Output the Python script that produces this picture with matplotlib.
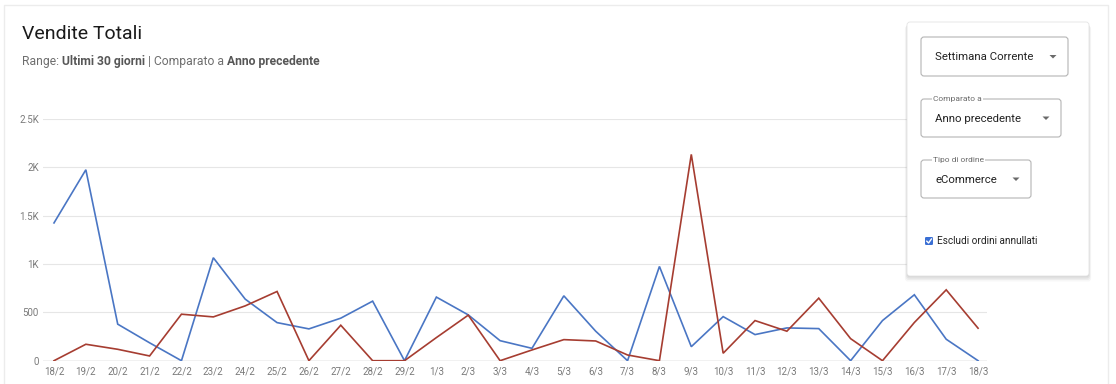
import matplotlib.pyplot as plt
from matplotlib.patches import FancyBboxPatch, Rectangle, Polygon
from matplotlib.lines import Line2D

plt.rcParams['font.family'] = ['Roboto', 'DejaVu Sans']

# Dati
giorni = ["18/2", "19/2", "20/2", "21/2", "22/2", "23/2", "24/2", "25/2", "26/2", "27/2",
          "28/2", "29/2", "1/3", "2/3", "3/3", "4/3", "5/3", "6/3", "7/3", "8/3",
          "9/3", "10/3", "11/3", "12/3", "13/3", "14/3", "15/3", "16/3", "17/3", "18/3"]
vendite_correnti = [1425, 1975, 378, 185, 0, 1065, 637, 394, 329, 440,
                    616, 0, 658, 474, 207, 128, 671, 305, 0, 975,
                    145, 456, 270, 339, 332, 0, 415, 682, 222, 0]
vendite_anno_prec = [0, 170, 118, 49, 481, 453, 567, 716, 0, 367,
                     0, 0, 239, 471, 0, 111, 218, 204, 59, 0,
                     2134, 77, 415, 305, 647, 228, 0, 395, 733, 336]
y_ticks = [0, 500, 1000, 1500, 2000, 2500]
y_labels = ["0", "500", "1K", "1.5K", "2K", "2.5K"]

W, H = 1116, 384
fig = plt.figure(figsize=(W / 100, H / 100), dpi=100)
fig.patch.set_facecolor("white")

# area del grafico (pixel)
x0, x1, yb, yt = 43, 987, 360.7, 119
ax = fig.add_axes([x0 / W, (H - yb) / H, (x1 - x0) / W, (yb - yt) / H], zorder=1)
xs = list(range(len(giorni)))
ax.plot(xs, vendite_correnti, color="#4a76c4", lw=1.2, zorder=3, solid_joinstyle="miter")
ax.plot(xs, vendite_anno_prec, color="#a63d31", lw=1.2, zorder=3, solid_joinstyle="miter")
ax.set_xlim(-0.345, 29.28)
ax.set_ylim(0, 2500)
ax.set_yticks(y_ticks)
ax.set_yticklabels(y_labels)
ax.set_xticks(xs)
ax.set_xticklabels(giorni)
ax.tick_params(length=0, labelsize=7, labelcolor="#7a7a7a")
ax.tick_params(axis="y", pad=3)
ax.tick_params(axis="x", pad=4)
for s in ax.spines.values():
    s.set_visible(False)
ax.grid(axis="y", color="#e6e6e6", lw=0.8, zorder=0)
ax.axhline(0, color="#c4c4c4", lw=1.0, zorder=2)
ax.patch.set_alpha(0)

# livello interfaccia in coordinate pixel
ui = fig.add_axes([0, 0, 1, 1], zorder=5)
ui.set_xlim(0, W)
ui.set_ylim(H, 0)
ui.axis("off")
ui.patch.set_alpha(0)

bg = fig.add_axes([0, 0, 1, 1], zorder=0)
bg.set_xlim(0, W)
bg.set_ylim(H, 0)
bg.axis("off")
bg.add_patch(Rectangle((4, 5), 1104, 400, facecolor="white", edgecolor="#ececec", lw=1))

ui.text(22, 34, "Vendite Totali", fontsize=14, color="#1a1a1a", va="center", ha="left")

renderer = fig.canvas.get_renderer()
pezzi = [("Range: ", "normal", "#6e6e6e"), ("Ultimi 30 giorni", "bold", "#575757"),
         (" | Comparato a ", "normal", "#6e6e6e"), ("Anno precedente", "bold", "#575757")]
xp = 22
for testo, peso, col in pezzi:
    t = ui.text(xp, 61, testo, fontsize=8.7, fontweight=peso, color=col, va="center", ha="left")
    xp += t.get_window_extent(renderer).width

# pannello filtri con ombra
for i, a in enumerate([0.05, 0.05, 0.04, 0.03]):
    ui.add_patch(FancyBboxPatch((907 - i * 0.7, 22 + 1 + i), 182 + i * 1.4, 254 + i * 0.5,
                                boxstyle="round,pad=0,rounding_size=3",
                                facecolor="black", edgecolor="none", alpha=a))
ui.add_patch(FancyBboxPatch((907, 22), 182, 254, boxstyle="round,pad=0,rounding_size=3",
                            facecolor="white", edgecolor="#e4e4e4", lw=0.6))


def tendina(x, y, w, h, testo, etichetta=None):
    box = FancyBboxPatch((x, y), w, h, boxstyle="round,pad=0,rounding_size=3",
                         facecolor="white", edgecolor="#b5b5b5", lw=0.8)
    ui.add_patch(box)
    tt = ui.text(x + 14, y + h / 2 + 1, testo, fontsize=8.2, color="#222222", va="center", ha="left")
    clip = Rectangle((x, y), w - 26, h, transform=ui.transData, visible=False)
    ui.add_patch(clip)
    tt.set_clip_path(clip)
    ax_ = x + w - 15
    ui.add_patch(Polygon([(ax_ - 3.5, y + h / 2 - 1.5), (ax_ + 3.5, y + h / 2 - 1.5),
                          (ax_, y + h / 2 + 2)], closed=True, facecolor="#6a6a6a", edgecolor="none"))
    if etichetta:
        ui.text(x + 12, y, etichetta, fontsize=6, color="#6a6a6a", va="center", ha="left",
                bbox=dict(facecolor="white", edgecolor="none", pad=0.6))


tendina(921, 37, 147, 39, "Settimana Corrente")
tendina(921, 99, 140, 38, "Anno precedente", "Comparato a")
tendina(921, 160, 110, 38, "eCommerce", "Tipo di ordine")

ui.add_patch(FancyBboxPatch((925, 237), 8, 8, boxstyle="round,pad=0,rounding_size=1.2",
                            facecolor="#3a6fd4", edgecolor="none"))
ui.add_line(Line2D([926.8, 928.6, 931.4], [241.2, 243.0, 239.0], color="white", lw=1.0))
ui.text(937, 241, "Escludi ordini annullati", fontsize=7.2, color="#222222", va="center", ha="left")

fig.savefig("out.png", dpi=100)
